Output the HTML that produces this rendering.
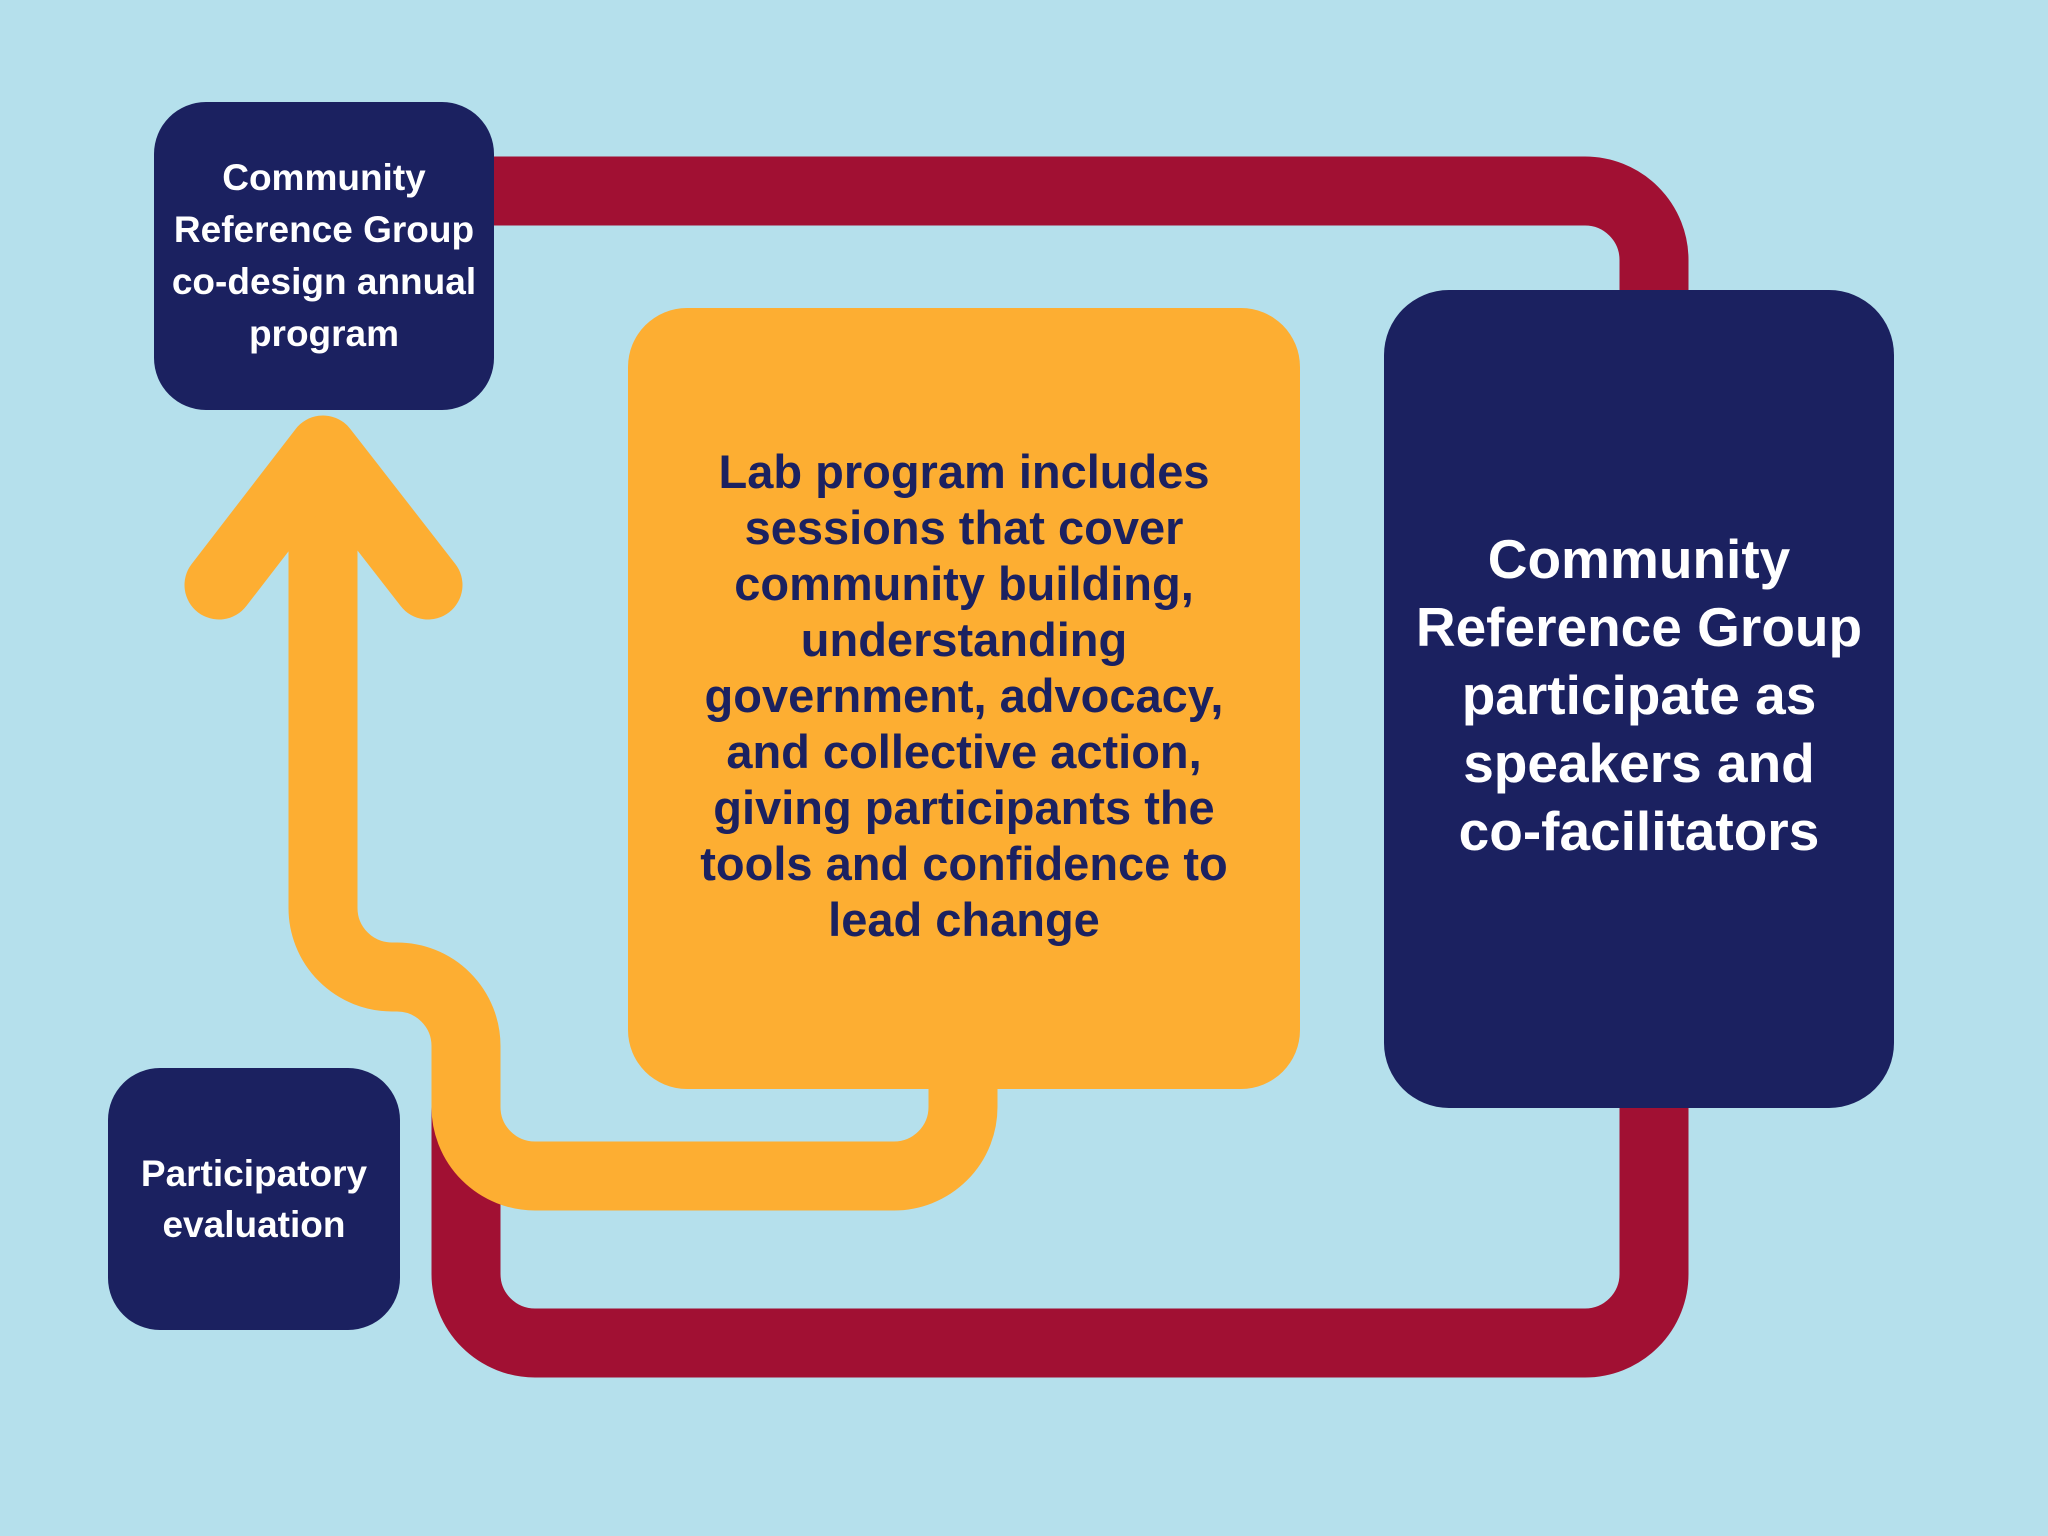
<!DOCTYPE html>
<html><head><style>
html,body{margin:0;padding:0}
body{width:2048px;height:1536px;background:#b5e0ec;position:relative;overflow:hidden;font-family:"Liberation Sans",sans-serif;font-weight:bold}
.box{position:absolute;display:flex;align-items:center;justify-content:center;text-align:center;box-sizing:border-box;white-space:nowrap}
svg{position:absolute;left:0;top:0}
</style></head><body>
<svg width="2048" height="1536">
<path d="M480 191 H1585 A69 69 0 0 1 1654 260 V1274 A69 69 0 0 1 1585 1343 H535 A69 69 0 0 1 466 1274 V1090" fill="none" stroke="#a11033" stroke-width="69"/>
</svg>
<div class="box" style="left:628px;top:308px;width:672px;height:781px;border-radius:59px;background:#fdae32;color:#1b2160;font-size:47px;line-height:56px;padding-bottom:6px">Lab program includes<br>sessions that cover<br>community building,<br>understanding<br>government, advocacy,<br>and collective action,<br>giving participants the<br>tools and confidence to<br>lead change</div>
<svg width="2048" height="1536">
<path d="M963 1060 V1107 A69 69 0 0 1 894 1176 H535 A69 69 0 0 1 466 1107 V1046 A69 69 0 0 0 397 977 H392 A69 69 0 0 1 323 908 V450" fill="none" stroke="#fdae32" stroke-width="69"/>
<path d="M219 585 L323 450 L428 585" fill="none" stroke="#fdae32" stroke-width="69" stroke-linecap="round" stroke-linejoin="round"/>
</svg>
<div class="box" style="left:154px;top:102px;width:340px;height:308px;border-radius:52px;background:#1b2160;color:#fff;font-size:37px;line-height:52px">Community<br>Reference Group<br>co-design annual<br>program</div>
<div class="box" style="left:1384px;top:290px;width:510px;height:818px;border-radius:65px;background:#1b2160;color:#fff;font-size:55px;line-height:68px;padding-bottom:8px">Community<br>Reference Group<br>participate as<br>speakers and<br>co-facilitators</div>
<div class="box" style="left:108px;top:1068px;width:292px;height:262px;border-radius:52px;background:#1b2160;color:#fff;font-size:37px;line-height:51px">Participatory<br>evaluation</div>
</body></html>
